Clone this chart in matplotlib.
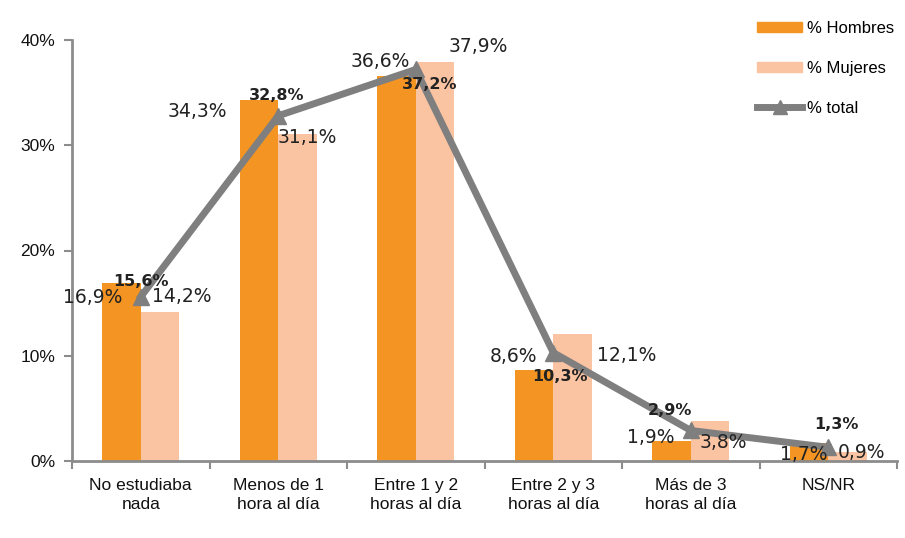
import matplotlib
matplotlib.use("Agg")
import matplotlib.pyplot as plt
from matplotlib.lines import Line2D
from matplotlib.patches import Patch
import numpy as np

# ── Data ─────────────────────────────────────────────────────────────────────
categories = ["No estudiaba\nnada", "Menos de 1\nhora al día", "Entre 1 y 2\nhoras al día",
              "Entre 2 y 3\nhoras al día", "Más de 3\nhoras al día", "NS/NR"]
hombres = [16.9, 34.3, 36.6, 8.6, 1.9, 1.7]
mujeres = [14.2, 31.1, 37.9, 12.1, 3.8, 0.9]
total = [15.6, 32.8, 37.2, 10.3, 2.9, 1.3]

# label offsets in pixels (dx, dy) relative to each point
off_h = [(-48, -14), (-81, -12), (-36, 14), (-40, 14), (-40, 4), (-25, -11)]
off_m = [(41, 15), (29, -4), (62, 16), (73, -22), (33, -21), (33, -1)]
off_t = [(0, 15), (-2, 20), (14, -15), (7, -24), (-21, 20), (8, 23)]

C_H = "#F39423"
C_M = "#FAC3A2"
C_T = "#7F7F7F"
SPINE = "#8C8C8C"

fig = plt.figure(figsize=(9.05, 5.38), dpi=100)
ax = fig.add_axes([72 / 905, 1 - 461 / 538, 825 / 905, 421 / 538])

x = np.arange(len(categories))
w = 0.28
ax.bar(x - w / 2, hombres, w, color=C_H, zorder=2)
ax.bar(x + w / 2, mujeres, w, color=C_M, zorder=2)
ax.plot(x, total, color=C_T, lw=5, marker="^", ms=12, zorder=3)

px = 0.72  # pixels -> points at 100 dpi
lab = dict(fontsize=13.5, color="#222222", family="DejaVu Sans",
           ha="center", va="center", textcoords="offset points", zorder=4)
for i in range(len(categories)):
    ax.annotate(f"{hombres[i]:.1f}%".replace(".", ","), (x[i], hombres[i]),
                xytext=(off_h[i][0] * px, off_h[i][1] * px), **lab)
    ax.annotate(f"{mujeres[i]:.1f}%".replace(".", ","), (x[i], mujeres[i]),
                xytext=(off_m[i][0] * px, off_m[i][1] * px), **lab)
    ax.annotate(f"{total[i]:.1f}%".replace(".", ","), (x[i], total[i]),
                xytext=(off_t[i][0] * px, off_t[i][1] * px),
                fontweight="bold", **{**lab, "fontsize": 11.5})

ax.set_xlim(-0.5, len(categories) - 0.5)
ax.set_ylim(0, 40)
ax.set_yticks([0, 10, 20, 30, 40])
ax.set_yticklabels([f"{v}%" for v in [0, 10, 20, 30, 40]])
ax.set_xticks(x)
ax.set_xticklabels(categories)
ax.set_xticks(np.arange(len(categories) + 1) - 0.5, minor=True)

tick_font = ["Liberation Sans", "DejaVu Sans"]
for t in ax.get_xticklabels():
    t.set_family(tick_font)
    t.set_fontsize(12.5)
    t.set_linespacing(1.35)
for t in ax.get_yticklabels():
    t.set_family(tick_font)
    t.set_fontsize(12.5)

ax.tick_params(axis="x", which="major", length=0, pad=12, colors="#111111")
ax.tick_params(axis="x", which="minor", length=6, width=1.5, color=SPINE)
ax.tick_params(axis="y", length=6, width=1.5, color=SPINE, colors="#111111", pad=6)
for t in ax.yaxis.get_ticklines():
    t.set_color(SPINE)
ax.spines[["top", "right"]].set_visible(False)
for s in ("left", "bottom"):
    ax.spines[s].set_color(SPINE)
    ax.spines[s].set_linewidth(2)

handles = [Patch(color=C_H), Patch(color=C_M),
           Line2D([], [], color=C_T, lw=5, marker="^", ms=10)]
fig.legend(handles, ["% Hombres", "% Mujeres", "% total"],
           loc="upper left", bbox_to_anchor=(742 / 905, 1 - 6 / 538),
           frameon=False, handlelength=2.7, handleheight=0.6, handletextpad=0.3,
           labelspacing=1.5, prop={"family": tick_font, "size": 12})

fig.savefig("out.png", dpi=100)
